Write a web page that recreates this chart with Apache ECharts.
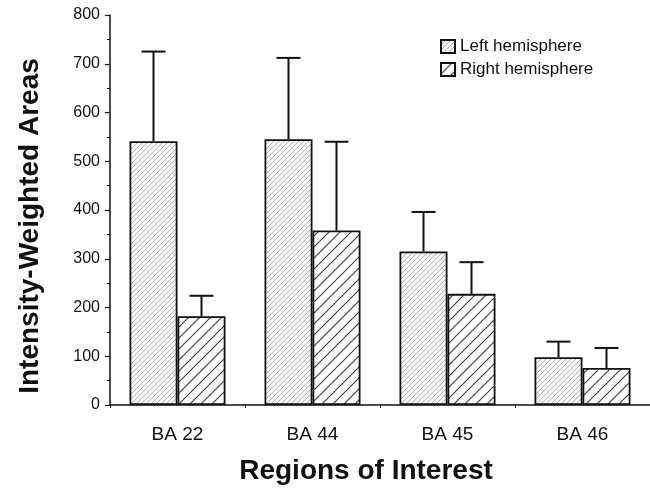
<!DOCTYPE html>
<html>
<head>
<meta charset="utf-8">
<script src="https://cdn.jsdelivr.net/npm/echarts@6/dist/echarts.min.js"></script>
<style>
  html, body { margin: 0; padding: 0; background: #fff; }
  #chart { width: 650px; height: 492px; }
</style>
</head>
<body>
<div id="chart"></div>
<script>
// data
var categories = ['BA 22', 'BA 44', 'BA 45', 'BA 46'];
var leftMean = [541, 545, 315, 98];
var leftSd = [184, 167, 81, 32];
var rightMean = [182, 358, 228, 76];
var rightSd = [42, 182, 65, 41];
var yTicks = [0, 100, 200, 300, 400, 500, 600, 700, 800];

var BAR_W = 48;

// hatch fill
function hatch(size, stroke, width, bg) {
    var c = document.createElement('canvas');
    c.width = size; c.height = size;
    var ctx = c.getContext('2d');
    ctx.fillStyle = bg;
    ctx.fillRect(0, 0, size, size);
    ctx.strokeStyle = stroke;
    ctx.lineWidth = width;
    ctx.beginPath();
    ctx.moveTo(-1, size + 1); ctx.lineTo(size + 1, -1);
    ctx.moveTo(-1, 1); ctx.lineTo(1, -1);
    ctx.moveTo(size - 1, size + 1); ctx.lineTo(size + 1, size - 1);
    ctx.stroke();
    return { image: c, repeat: 'repeat' };
}

function errorSeries(means, sds, offset) {
    return {
        type: 'custom',
        silent: true,
        z: 3,
        data: means.map(function (m, i) { return [i, m, m + sds[i]]; }),
        renderItem: function (params, api) {
            var base = api.coord([api.value(0), api.value(1)]);
            var top = api.coord([api.value(0), api.value(2)]);
            var x = base[0] + offset;
            var style = { stroke: '#111', lineWidth: 2 };
            return {
                type: 'group',
                children: [
                    { type: 'line', shape: { x1: x, y1: base[1], x2: x, y2: top[1] }, style: style },
                    { type: 'line', shape: { x1: x - 12, y1: top[1], x2: x + 12, y2: top[1] }, style: style }
                ]
            };
        }
    };
}

var chart = echarts.init(document.getElementById('chart'));
var fine = hatch(5, '#b4b4b4', 1, '#f8f8f8');
var coarse = hatch(11, '#444', 1.2, '#fff');

chart.setOption({
    animation: false,
    textStyle: { fontFamily: 'Liberation Sans, Arial, sans-serif' },
    grid: { left: 110, right: 0, top: 15, bottom: 87 },
    legend: {
        orient: 'vertical',
        left: 435,
        top: 33,
        itemWidth: 14,
        itemHeight: 13,
        itemGap: 6,
        icon: 'rect',
        textStyle: { fontSize: 17, color: '#111' },
        data: ['Left hemisphere', 'Right hemisphere']
    },
    xAxis: {
        type: 'category',
        data: categories,
        name: 'Regions of Interest',
        nameLocation: 'middle',
        nameGap: 52,
        nameTextStyle: { fontSize: 28, fontWeight: 'bold', color: '#111', padding: [0, 28, 0, 0] },
        axisLine: { lineStyle: { color: '#111', width: 1.5 } },
        axisTick: { show: true, length: 3, alignWithLabel: false, lineStyle: { color: '#111' } },
        axisLabel: { fontSize: 19, color: '#111', margin: 20 }
    },
    yAxis: {
        type: 'value',
        min: 0,
        max: 800,
        interval: 100,
        name: 'Intensity-Weighted Areas',
        nameLocation: 'middle',
        nameGap: 66,
        nameTextStyle: { fontSize: 28, fontWeight: 'bold', color: '#111', padding: [0, 32, 0, 0] },
        axisLine: { show: true, lineStyle: { color: '#111', width: 1.5 } },
        axisTick: { show: true, length: 5, lineStyle: { color: '#111', width: 1.2 } },
        minorTick: { show: true, splitNumber: 2, length: 3, lineStyle: { color: '#111' } },
        splitLine: { show: false },
        axisLabel: {
            fontSize: 16, color: '#111', margin: 10,
            formatter: function (v) { return yTicks.indexOf(v) >= 0 ? String(v) : ''; }
        }
    },
    series: [
        {
            name: 'Left hemisphere',
            type: 'bar',
            data: leftMean,
            barWidth: BAR_W,
            barGap: '0%',
            itemStyle: { color: fine, borderColor: '#111', borderWidth: 1.8 }
        },
        {
            name: 'Right hemisphere',
            type: 'bar',
            data: rightMean,
            barWidth: BAR_W,
            barGap: '0%',
            itemStyle: { color: coarse, borderColor: '#111', borderWidth: 1.8 }
        },
        errorSeries(leftMean, leftSd, -BAR_W / 2),
        errorSeries(rightMean, rightSd, BAR_W / 2)
    ]
});
</script>
</body>
</html>
